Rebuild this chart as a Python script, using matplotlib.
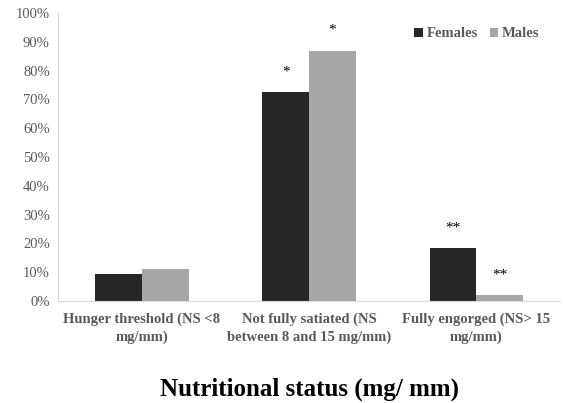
import numpy as np
import matplotlib
matplotlib.use('Agg')
import matplotlib.pyplot as plt

plt.rcParams['font.family'] = ['Liberation Serif', 'DejaVu Serif']

categories = ['Hunger threshold (NS <8\nmg/mm)',
              'Not fully satiated (NS\nbetween 8 and 15 mg/mm)',
              'Fully engorged (NS> 15\nmg/mm)']
females = [9.4, 72.5, 18.4]
males = [11.2, 86.8, 2.1]
female_marks = ['', '*', '**']
male_marks = ['', '*', '**']

fig = plt.figure(figsize=(5.64, 4.03), dpi=100)
ax = fig.add_axes([0.103, 0.253, 0.890, 0.715])

x = np.arange(len(categories))
w = 0.28
b1 = ax.bar(x - w / 2, females, w, color='#262626', label='Females')
b2 = ax.bar(x + w / 2, males, w, color='#a6a6a6', label='Males')

# significance stars over the bars
for bars, marks in [(b1, female_marks), (b2, male_marks)]:
    for bar, m in zip(bars, marks):
        if m:
            ax.annotate(m, (bar.get_x() + bar.get_width() / 2, bar.get_height()),
                        xytext=(0, 10), textcoords='offset points',
                        ha='center', va='bottom', fontsize=11, color='black')

ax.set_xlim(-0.5, 2.5)
ax.set_ylim(0, 100)
ax.set_yticks(np.arange(0, 101, 10))
ax.set_yticklabels([f'{v}%' for v in range(0, 101, 10)], color='#595959', fontsize=10.5)
ax.set_xticks(x)
ax.set_xticklabels(categories, color='#595959', fontsize=10.5, fontweight='bold',
                   linespacing=1.45)
ax.tick_params(axis='x', length=0, pad=8)
ax.tick_params(axis='y', length=0, pad=6)

for s in ['top', 'right']:
    ax.spines[s].set_visible(False)
ax.spines['left'].set_color('#d9d9d9')
ax.spines['bottom'].set_color('#d9d9d9')

ax.set_xlabel('Nutritional status (mg/ mm)', fontsize=18, fontweight='bold',
              color='black', labelpad=24)

leg = ax.legend(loc='upper right', bbox_to_anchor=(0.985, 0.995), ncol=2, frameon=False,
                handlelength=0.6, handleheight=0.6, handletextpad=0.25,
                columnspacing=0.8, prop={'size': 10.5, 'weight': 'bold'})
for t in leg.get_texts():
    t.set_color('#595959')

fig.savefig('out.png', dpi=100)
